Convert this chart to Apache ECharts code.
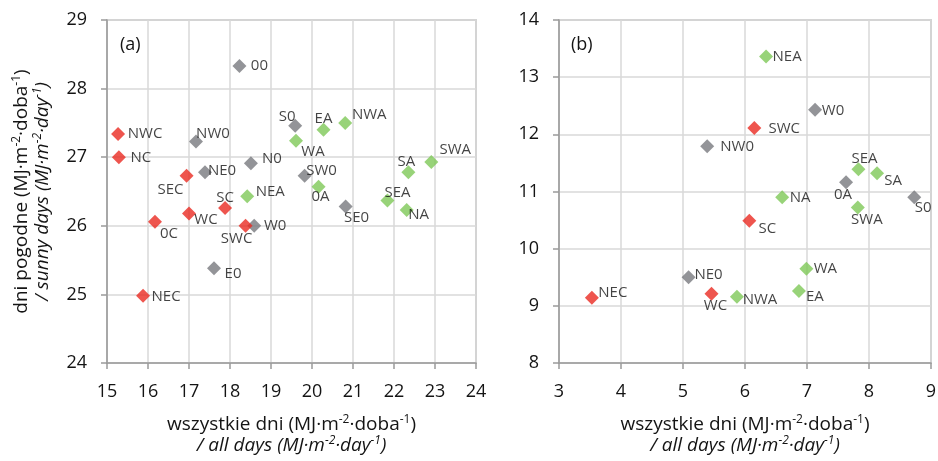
<!DOCTYPE html>
<html>
<head>
<meta charset="utf-8">
<script src="https://cdn.jsdelivr.net/npm/echarts@6/dist/echarts.min.js"></script>
<style>
html,body{margin:0;padding:0;background:#fff;}
#chart{width:938px;height:461px;}
</style>
</head>
<body>
<div id="chart"></div>
<script>
// ---- Panel (a) data: x = all days, y = sunny days ----
const aRedNames = ['NWC','NC','SEC','SC','WC','0C','SWC','NEC'];
const aRedX = [15.27,15.29,16.94,17.88,17.00,16.17,18.38,15.88];
const aRedY = [27.34,27.00,26.73,26.26,26.18,26.06,26.00,24.98];

const aGrayNames = ['00','NW0','S0','N0','NE0','SW0','W0','SE0','E0'];
const aGrayX = [18.23,17.17,19.59,18.51,17.39,19.82,18.59,20.82,17.61];
const aGrayY = [28.33,27.23,27.46,26.91,26.78,26.73,26.00,26.28,25.38];

const aGreenNames = ['EA','NWA','WA','SA','SWA','0A','NEA','SEA','NA'];
const aGreenX = [20.28,20.81,19.61,22.35,22.91,20.16,18.42,21.84,22.31];
const aGreenY = [27.40,27.50,27.24,26.78,26.93,26.57,26.43,26.37,26.23];

// ---- Panel (b) data ----
const bRedNames = ['SWC','SC','WC','NEC'];
const bRedX = [6.15,6.07,5.46,3.53];
const bRedY = [12.11,10.49,9.21,9.14];

const bGrayNames = ['W0','NW0','0A','S0','NE0'];
const bGrayX = [7.13,5.39,7.63,8.73,5.09];
const bGrayY = [12.43,11.79,11.16,10.90,9.50];

const bGreenNames = ['NEA','SEA','SA','NA','SWA','WA','EA','NWA'];
const bGreenX = [6.34,7.83,8.13,6.60,7.82,6.99,6.87,5.87];
const bGreenY = [13.36,11.39,11.32,10.90,10.72,9.65,9.26,9.16];

// axis ranges / ticks
const aXTicks = {min:15, max:24, interval:1};
const aYTicks = {min:24, max:29, interval:1};
const bXTicks = {min:3, max:9, interval:1};
const bYTicks = {min:8, max:14, interval:1};

// label placement (offset of label centre from marker centre, px)
const aLabelOffset = {
  NWC:[27,0], NC:[22,1], SEC:[-16,14], SC:[0,-10], WC:[17,6], '0C':[14,12], SWC:[-9,13], NEC:[23,1],
  '00':[20,0], NW0:[17,-8], S0:[-8,-9], N0:[21,-5], NE0:[17,-2], SW0:[17,-5], W0:[21,0], SE0:[11,11], E0:[19,5],
  EA:[0,-11], NWA:[24,-8], WA:[17,11], SA:[-2,-11], SWA:[24,-12], '0A':[2,10], NEA:[23,-5], SEA:[10,-8], NA:[12,5]
};
const bLabelOffset = {
  SWC:[30,1], SC:[18,8], WC:[4,12], NEC:[21,-5],
  W0:[18,1], NW0:[30,0], '0A':[-3,12], S0:[9,11], NE0:[20,-3],
  NEA:[21,0], SEA:[6,-10], SA:[16,8], NA:[18,1], SWA:[9,12], WA:[19,0], EA:[16,6], NWA:[23,3]
};

const RED = '#ea2a22', GRAY = '#78797e', GREEN = '#7ec857';
const FONT = 'Open Sans';
const TXT = '#141414';

function pts(names, xs, ys, offs){
  return names.map((n,i)=>({name:n, value:[xs[i], ys[i]], label:{offset:offs[n]}}));
}
function ser(idx, names, xs, ys, offs, color){
  return {
    type:'scatter', xAxisIndex:idx, yAxisIndex:idx,
    symbol:'diamond', symbolSize:14,
    itemStyle:{color:color},
    data:pts(names, xs, ys, offs),
    label:{show:true, position:'inside', formatter:'{b}', color:TXT,
      fontSize:15, fontFamily:FONT, align:'center', verticalAlign:'middle'},
    emphasis:{disabled:true},
    z:3
  };
}

const supStyle = {fontSize:12, fontFamily:FONT, color:TXT, verticalAlign:'top', lineHeight:12};
const supItStyle = Object.assign({}, supStyle, {fontStyle:'italic'});
const rich = {
  a:{fontSize:19, fontFamily:FONT, color:TXT, lineHeight:21},
  b:{fontSize:19, fontFamily:FONT, color:TXT, fontStyle:'italic', lineHeight:21},
  s:supStyle, t:supItStyle
};
const xName = '{a|wszystkie dni (MJ·m}{s|-2}{a|·doba}{s|-1}{a|)}\n{b|/ all days (MJ·m}{t|-2}{b|·day}{t|-1}{b|)}';
const yName = '{a|dni pogodne (MJ·m}{s|-2}{a|·doba}{s|-1}{a|)}\n{b|/ sunny days (MJ·m}{t|-2}{b|·day}{t|-1}{b|)}';

function xAxis(idx, t, name){
  return {
    type:'value', gridIndex:idx, min:t.min, max:t.max, interval:t.interval,
    axisLine:{show:true, onZero:false, lineStyle:{color:'#9a9a9a', width:1.5}},
    axisTick:{show:true, inside:false, length:6, lineStyle:{color:'#9a9a9a', width:1.5}},
    axisLabel:{fontSize:18, fontFamily:FONT, color:TXT, margin:20},
    splitLine:{show:true, lineStyle:{color:'#d9d9d9', width:1.5}},
    name:name, nameLocation:'middle', nameGap:51,
    nameTextStyle:{rich:rich, align:'center'}
  };
}
function yAxis(idx, t, name){
  return {
    type:'value', gridIndex:idx, min:t.min, max:t.max, interval:t.interval,
    axisLine:{show:true, onZero:false, lineStyle:{color:'#9a9a9a', width:1.5}},
    axisTick:{show:true, inside:false, length:6, lineStyle:{color:'#9a9a9a', width:1.5}},
    axisLabel:{fontSize:18, fontFamily:FONT, color:TXT, margin:20},
    splitLine:{show:true, lineStyle:{color:'#d9d9d9', width:1.5}},
    name:name, nameLocation:'middle', nameGap:54,
    nameTextStyle:{rich:rich, align:'center'}
  };
}

const chart = echarts.init(document.getElementById('chart'), null, {renderer:'canvas'});
chart.setOption({
  backgroundColor:'#fff',
  animation:false,
  title:[
    {text:'(a)', left:115, top:31, textStyle:{fontSize:18, fontFamily:FONT, fontWeight:'normal', color:TXT}},
    {text:'(b)', left:566, top:31, textStyle:{fontSize:18, fontFamily:FONT, fontWeight:'normal', color:TXT}}
  ],
  grid:[
    {left:107, top:20, width:369, height:343, show:true, borderColor:'#b3b3b3', borderWidth:1.5, backgroundColor:'transparent', outerBoundsMode:'none', containLabel:false},
    {left:559, top:20, width:372, height:343, show:true, borderColor:'#b3b3b3', borderWidth:1.5, backgroundColor:'transparent', outerBoundsMode:'none', containLabel:false}
  ],
  xAxis:[ xAxis(0, aXTicks, xName), xAxis(1, bXTicks, xName) ],
  yAxis:[ yAxis(0, aYTicks, yName), yAxis(1, bYTicks, '') ],
  series:[
    ser(0, aGrayNames, aGrayX, aGrayY, aLabelOffset, GRAY),
    ser(0, aGreenNames, aGreenX, aGreenY, aLabelOffset, GREEN),
    ser(0, aRedNames, aRedX, aRedY, aLabelOffset, RED),
    ser(1, bGrayNames, bGrayX, bGrayY, bLabelOffset, GRAY),
    ser(1, bGreenNames, bGreenX, bGreenY, bLabelOffset, GREEN),
    ser(1, bRedNames, bRedX, bRedY, bLabelOffset, RED)
  ]
});
</script>
</body>
</html>
